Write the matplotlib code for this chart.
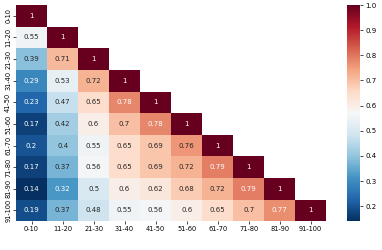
import numpy as np
import matplotlib
matplotlib.use("Agg")
import matplotlib.pyplot as plt
import seaborn as sns

labels = ["0-10", "11-20", "21-30", "31-40", "41-50", "51-60", "61-70", "71-80", "81-90", "91-100"]
row_0_10 = [1]
row_11_20 = [0.55, 1]
row_21_30 = [0.39, 0.71, 1]
row_31_40 = [0.29, 0.53, 0.72, 1]
row_41_50 = [0.23, 0.47, 0.65, 0.78, 1]
row_51_60 = [0.17, 0.42, 0.6, 0.7, 0.78, 1]
row_61_70 = [0.2, 0.4, 0.55, 0.65, 0.69, 0.76, 1]
row_71_80 = [0.17, 0.37, 0.56, 0.65, 0.69, 0.72, 0.79, 1]
row_81_90 = [0.14, 0.32, 0.5, 0.6, 0.62, 0.68, 0.72, 0.79, 1]
row_91_100 = [0.19, 0.37, 0.48, 0.55, 0.56, 0.6, 0.65, 0.7, 0.77, 1]
rows = [row_0_10, row_11_20, row_21_30, row_31_40, row_41_50,
        row_51_60, row_61_70, row_71_80, row_81_90, row_91_100]

n = len(labels)
M = np.full((n, n), np.nan)
for i, r in enumerate(rows):
    for j, v in enumerate(r):
        M[i, j] = v
        M[j, i] = v
mask = np.triu(np.ones((n, n), dtype=bool), k=1)

fig = plt.figure(figsize=(3.82, 2.5), dpi=100)
ax = fig.add_axes([0.042, 0.115, 0.812, 0.865])
cax = fig.add_axes([0.908, 0.115, 0.035, 0.865])
sns.heatmap(M, mask=mask, cmap="RdBu_r", annot=True, annot_kws={"size": 5},
            linewidths=0, ax=ax, cbar_ax=cax,
            xticklabels=labels, yticklabels=labels, vmin=0.14, vmax=1.0)
ax.tick_params(axis="both", labelsize=4.8, length=2, width=0.5, pad=1.5)
ax.set_yticklabels(labels, rotation=90, va="center")
ax.set_xticklabels(labels, rotation=0)
cax.tick_params(labelsize=5, length=2, width=0.5, pad=1.5)
cax.set_yticks([0.2, 0.3, 0.4, 0.5, 0.6, 0.7, 0.8, 0.9, 1.0])
for s in cax.spines.values():
    s.set_visible(False)
fig.savefig("out.png", dpi=100)
